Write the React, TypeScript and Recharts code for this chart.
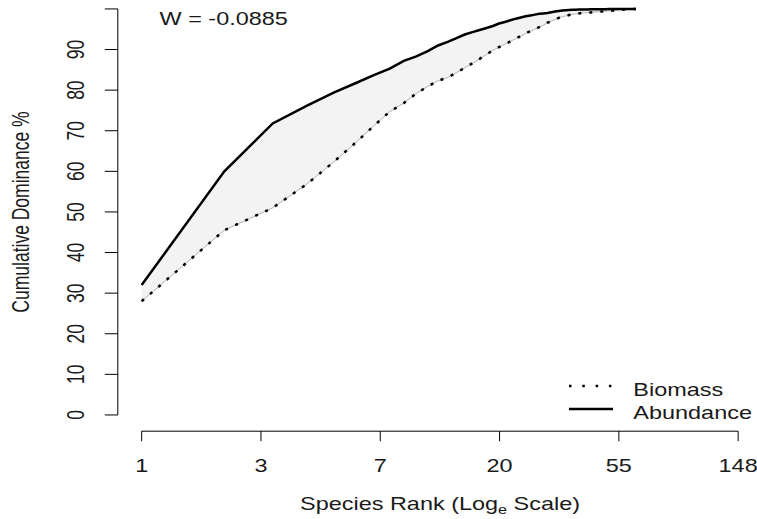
import { ComposedChart, Area, Line, XAxis, YAxis, ReferenceLine } from "recharts";

// cumulative % by species rank (rank 1 = most dominant)
const ABUNDANCE = [
  32, 60, 71.8, 76.2, 79.4, 81.7, 83.7, 85.3, 87.2, 88.3,
  89.6, 91.0, 91.9, 92.8, 93.7, 94.3, 94.8, 95.3, 95.8, 96.4,
  96.8, 97.2, 97.6, 97.9, 98.2, 98.4, 98.6, 98.8, 98.9, 99.0,
  99.2, 99.35, 99.5, 99.6, 99.7, 99.75, 99.8, 99.82, 99.85, 99.87,
  99.88, 99.89, 99.9, 99.91, 99.92, 99.93, 99.94, 99.95, 99.95, 99.96,
  99.96, 99.97, 99.97, 99.98, 99.98, 99.98, 99.99, 99.99, 99.99, 99.99,
  100, 100, 100,
];

const BIOMASS = [
  28, 45.5, 51.0, 56.9, 62.3, 67.0, 71.2, 74.7, 76.8, 79.2,
  80.9, 82.3, 83.1, 84.3, 85.5, 86.6, 87.7, 88.8, 89.8, 90.6,
  91.3, 92.0, 92.7, 93.3, 94.0, 94.5, 95.0, 95.5, 96.0, 96.6,
  97.0, 97.4, 97.8, 98.1, 98.3, 98.5, 98.65, 98.8, 98.9, 99.0,
  99.05, 99.1, 99.15, 99.2, 99.25, 99.3, 99.35, 99.4, 99.45, 99.5,
  99.55, 99.6, 99.65, 99.7, 99.75, 99.8, 99.84, 99.88, 99.91, 99.94,
  99.96, 99.98, 100,
];

const X_TICK_LABELS = ["1", "3", "7", "20", "55", "148"];
const Y_TICKS = [0, 10, 20, 30, 40, 50, 60, 70, 80, 90, 100];

// ticks sit at e^0 .. e^5 (log_e scale)
const X_TICKS = X_TICK_LABELS.map((_, i) => Math.exp(i));
const X_MIN = Math.exp(-0.2);
const X_MAX = Math.exp(5.158);
const Y_MIN = -4;
const Y_MAX = 102.2;

const FONT = "'Liberation Sans', Arial, sans-serif";
const FS = 17.5;
const SX = 1.34; // the original picture is stretched sideways
const INK = "#1a1a1a";

const AXIS_X = 117.8;
const AXIS_Y = 431.2;

const data = ABUNDANCE.map((a, i) => ({
  rank: i + 1,
  abundance: a,
  biomass: BIOMASS[i],
  band: [BIOMASS[i], a],
}));

function Txt({ x, y, rotate, anchor = "middle", children }: any) {
  const t = `translate(${x},${y}) scale(${SX},1)` + (rotate ? " rotate(-90)" : "");
  return (
    <text
      transform={t}
      textAnchor={anchor}
      fontFamily={FONT}
      fontSize={FS}
      fill={INK}
    >
      {children}
    </text>
  );
}

const XTick = ({ payload }: any) => {
  const x = payload.coordinate;
  return (
    <g>
      <line x1={x} y1={AXIS_Y} x2={x} y2={AXIS_Y + 10} stroke="#000" />
      <Txt x={x} y={471.5}>
        {X_TICK_LABELS[payload.index]}
      </Txt>
    </g>
  );
};

const YTick = ({ payload }: any) => {
  const y = payload.coordinate;
  return (
    <g>
      <line x1={AXIS_X} y1={y} x2={AXIS_X - 13} y2={y} stroke="#000" />
      {payload.value < 100 && (
        <Txt x={83.5} y={y} rotate>
          {payload.value}
        </Txt>
      )}
    </g>
  );
};

export default function App() {
  return (
    <div style={{ position: "absolute", left: 0, top: 0, background: "#fff" }}>
      <ComposedChart
        width={757}
        height={519}
        data={data}
        margin={{ top: 0, right: 0, bottom: 27.8, left: 17.8 }}
      >
        <XAxis
          dataKey="rank"
          type="number"
          scale="log"
          domain={[X_MIN, X_MAX]}
          allowDataOverflow
          ticks={X_TICKS}
          interval={0}
          height={60}
          axisLine={false}
          tickLine={false}
          tick={<XTick />}
        />
        <YAxis
          type="number"
          domain={[Y_MIN, Y_MAX]}
          allowDataOverflow
          ticks={Y_TICKS}
          interval={0}
          width={100}
          axisLine={false}
          tickLine={false}
          tick={<YTick />}
        />
        <ReferenceLine
          segment={[
            { x: X_MIN, y: 0 },
            { x: X_MIN, y: 100 },
          ]}
          stroke="#000"
          ifOverflow="visible"
        />
        <ReferenceLine
          segment={[
            { x: X_TICKS[0], y: Y_MIN },
            { x: X_TICKS[5], y: Y_MIN },
          ]}
          stroke="#000"
          ifOverflow="visible"
        />
        <Area
          dataKey="band"
          type="linear"
          fill="#f3f3f3"
          fillOpacity={1}
          stroke="#b0b0b0"
          strokeWidth={1}
          isAnimationActive={false}
          dot={false}
          activeDot={false}
        />
        <Line
          dataKey="biomass"
          type="linear"
          stroke="#000"
          strokeWidth={2.5}
          strokeDasharray="3 8"
          dot={false}
          activeDot={false}
          isAnimationActive={false}
        />
        <Line
          dataKey="abundance"
          type="linear"
          stroke="#000"
          strokeWidth={2.5}
          dot={false}
          activeDot={false}
          isAnimationActive={false}
        />

        <Txt x={159.5} y={25} anchor="start">
          W = -0.0885
        </Txt>
        <Txt x={28.5} y={212} rotate>
          Cumulative Dominance %
        </Txt>
        <Txt x={440} y={510}>
          Species Rank (Log
          <tspan fontSize={12} dy={4}>e</tspan>
          <tspan dy={-4}> Scale)</tspan>
        </Txt>

        <line x1={569} y1={386} x2={613} y2={386} stroke="#000" strokeWidth={2.5} strokeDasharray="2.5 10.8" />
        <line x1={569} y1={409} x2={613} y2={409} stroke="#000" strokeWidth={2.5} />
        <Txt x={633.3} y={395.5} anchor="start">
          Biomass
        </Txt>
        <Txt x={633.3} y={418.5} anchor="start">
          Abundance
        </Txt>
      </ComposedChart>
    </div>
  );
}
